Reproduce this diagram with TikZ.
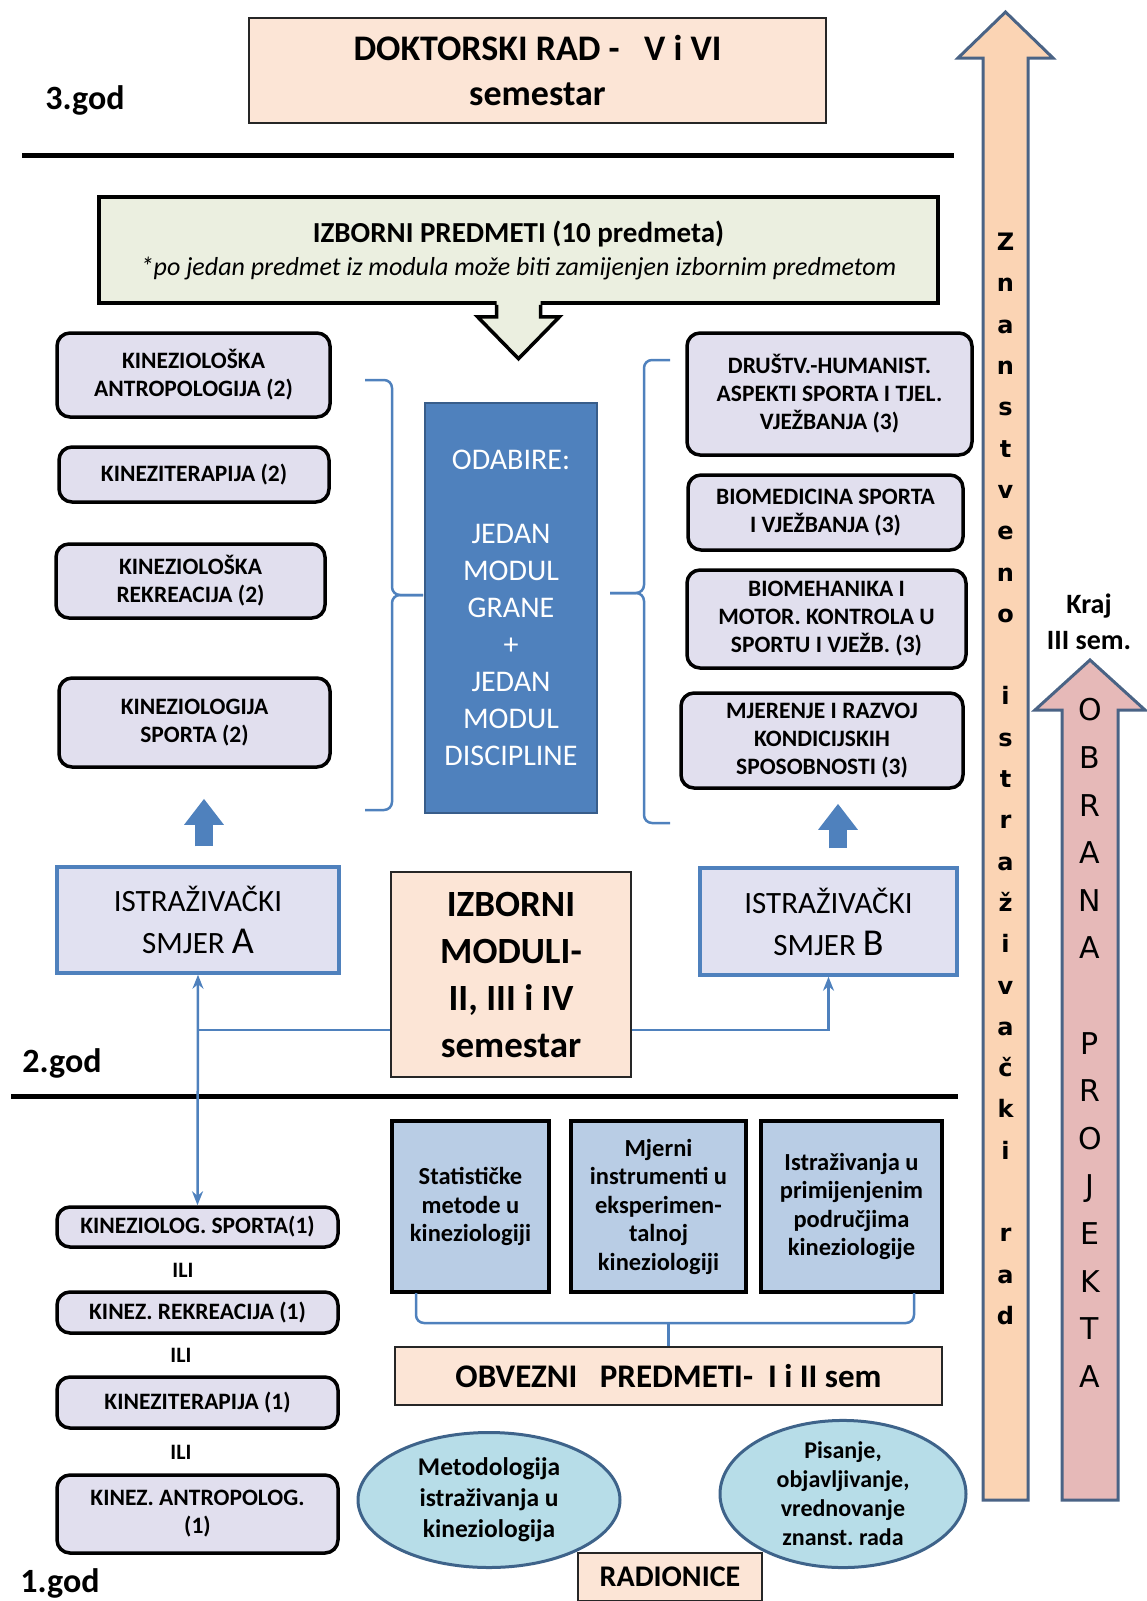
\documentclass[tikz,border=0pt]{standalone}
\usepackage{fontspec}
\setmainfont{Carlito}
\newfontfamily\vertfont{DejaVu Sans}
\usetikzlibrary{arrows.meta,calc,shapes.geometric}

\definecolor{peach}{RGB}{252,229,214}
\definecolor{lavend}{RGB}{225,223,238}
\definecolor{olivepale}{RGB}{235,239,224}
\definecolor{steel}{RGB}{79,129,189}
\definecolor{steeldark}{RGB}{56,93,138}
\definecolor{paleblue}{RGB}{185,205,229}
\definecolor{aqua}{RGB}{183,221,232}
\definecolor{aquaedge}{RGB}{62,99,138}
\definecolor{arroworange}{RGB}{251,212,180}
\definecolor{arrowpink}{RGB}{230,185,184}
\definecolor{arrowedge}{RGB}{74,99,133}
\definecolor{smjerfill}{RGB}{225,225,241}

\newcommand{\fsz}[2]{\fontsize{#1}{#2}\selectfont}

\tikzset{
  peachbox/.style={draw=black!85, line width=1.2pt, fill=peach, align=center, inner sep=0pt},
  modbox/.style={draw=black, line width=3.5pt, fill=lavend, rounded corners=13pt, align=center, inner sep=0pt, font=\bfseries\fsz{23.5}{28}},
  smjerbox/.style={draw=steel, line width=3.5pt, fill=smjerfill, align=center, inner sep=0pt, font=\fsz{31}{42}},
  sqbox/.style={draw=black, line width=4pt, fill=paleblue, align=center, inner sep=0pt, minimum height=171pt, font=\bfseries\fsz{24.5}{28.5}},
  workshop/.style={ellipse, draw=aquaedge, line width=3pt, fill=aqua, align=center, inner sep=0pt, font=\bfseries\fsz{25.5}{31}},
  yearlbl/.style={font=\bfseries\fsz{34}{40}},
  ililbl/.style={font=\bfseries\fsz{22}{26}},
  bracket/.style={draw=steel, line width=2.5pt, rounded corners=8pt},
  link/.style={draw=steel, line width=2.5pt},
  uparrow/.style={draw=steel, line width=18pt, -{Triangle[width=38pt,length=26pt]}},
  bigarrow/.style={draw=arrowedge, line width=3pt, line join=miter},
}

\begin{document}
\begin{tikzpicture}[x=1pt,y=-1pt]
\useasboundingbox (0,0) rectangle (1147,1601);

% Year separators
\draw[line width=5pt] (22,155) -- (954,155);
\draw[line width=5pt] (11,1096) -- (958,1096);
\node[yearlbl] (god3) at (85,100) {3.god};
\node[yearlbl] (god2) at (62,1063) {2.god};
\node[yearlbl] (god1) at (60,1583) {1.god};

% Third year
\node[peachbox, minimum width=577pt, minimum height=105pt, font=\bfseries\fsz{36}{46}] (doktor) at (537.5,70.5) {DOKTORSKI RAD -\ \ \ V i VI\\semestar};

% Elective subjects with block arrow
\node[draw=black, line width=3.5pt, fill=olivepale, minimum width=839pt, minimum height=106pt, align=center, inner sep=0pt, font=\fsz{26}{33}] (predmeti) at (518.5,250) {{\bfseries\fsz{29}{33}IZBORNI PREDMETI (10 predmeta)}\\\itshape *po jedan predmet iz modula može biti zamijenjen izbornim predmetom};
\begin{scope}[shift={(predmeti.south)}]
  \fill[olivepale] (-22,-4) -- (-22,12) -- (-41,12) -- (0,54) -- (41,12) -- (22,12) -- (22,-4) -- cycle;
  \draw[line width=3.5pt] (-22,0) -- (-22,12) -- (-41,12) -- (0,54) -- (41,12) -- (22,12) -- (22,0);
\end{scope}

% Modules of the branch
\node[modbox, minimum width=273pt, minimum height=84pt] (antrop) at (193.5,375) {KINEZIOLOŠKA\\ANTROPOLOGIJA (2)};
\node[modbox, minimum width=270pt, minimum height=55pt] (terap) at (194,474.5) {KINEZITERAPIJA (2)};
\node[modbox, minimum width=269pt, minimum height=74pt] (rekre) at (190.5,581) {KINEZIOLOŠKA\\REKREACIJA (2)};
\node[modbox, minimum width=271pt, minimum height=89pt] (sport) at (194.5,722.5) {KINEZIOLOGIJA\\SPORTA (2)};

% Choice in the middle
\node[draw=steeldark, line width=1.5pt, fill=steel, text=white, minimum width=172pt, minimum height=410pt, align=center, font=\fsz{30}{37}] (odabire) at (511,608) {ODABIRE:\\~\\JEDAN\\MODUL\\GRANE\\+\\JEDAN\\MODUL\\DISCIPLINE};
\draw[bracket] (365,380) -- (392,380) -- (392,595) -- (423,595);
\draw[bracket] (365,810) -- (392,810) -- (392,595) -- (423,595);
\draw[bracket] (670,360) -- (644,360) -- (644,593) -- (610,593);
\draw[bracket] (670,823) -- (644,823) -- (644,593) -- (610,593);

% Modules of the discipline
\node[modbox, minimum width=285pt, minimum height=122pt] (drustv) at (829.5,394) {DRUŠTV.-HUMANIST.\\ASPEKTI SPORTA I TJEL.\\VJEŽBANJA (3)};
\node[modbox, minimum width=275pt, minimum height=75pt] (biomed) at (825.5,512.5) {BIOMEDICINA SPORTA\\I VJEŽBANJA (3)};
\node[modbox, minimum width=279pt, minimum height=98pt] (biomeh) at (826.5,619) {BIOMEHANIKA I\\MOTOR. KONTROLA U\\SPORTU I VJEŽB.\ (3)};
\node[modbox, minimum width=282pt, minimum height=95pt] (kondic) at (822,740.5) {MJERENJE I RAZVOJ\\KONDICIJSKIH\\SPOSOBNOSTI (3)};

% Second year
\node[smjerbox, minimum width=282pt, minimum height=106pt] (smjerA) at (198,920) {ISTRAŽIVAČKI\\SMJER {\fsz{38}{42}A}};
\node[smjerbox, minimum width=257pt, minimum height=107pt] (smjerB) at (828.5,921.5) {ISTRAŽIVAČKI\\SMJER {\fsz{38}{42}B}};
\node[peachbox, minimum width=240pt, minimum height=205pt, font=\bfseries\fsz{37}{47}] (moduli) at (511,974.5) {IZBORNI\\MODULI-\\II, III i IV\\semestar};
\draw[uparrow, shorten <=19pt, shorten >=30pt] ([xshift=6pt]smjerA.north) -- ([xshift=6pt]smjerA.north |- sport.south);
\draw[uparrow, shorten <=18pt, shorten >=14pt] ([xshift=9.5pt]smjerB.north) -- ([xshift=9.5pt]smjerB.north |- kondic.south);

% First year
\node[modbox, minimum width=281pt, minimum height=40pt] (kspo1) at (197.5,1227) {KINEZIOLOG.\ SPORTA(1)};
\node[ililbl] (ili1) at (183,1270) {ILI};
\node[modbox, minimum width=281pt, minimum height=41pt] (krek1) at (197.5,1312.5) {KINEZ.\ REKREACIJA (1)};
\node[ililbl] (ili2) at (181,1355) {ILI};
\node[modbox, minimum width=281pt, minimum height=51pt] (kter1) at (197.5,1402.5) {KINEZITERAPIJA (1)};
\node[ililbl] (ili3) at (181,1452) {ILI};
\node[modbox, minimum width=281pt, minimum height=78pt] (kant1) at (197.5,1514) {KINEZ.\ ANTROPOLOG.\\(1)};

% Connections between the years
\coordinate (split) at (198,1030);
\draw[link, {Stealth[length=14pt,width=11pt]}-{Stealth[length=14pt,width=11pt]}] (smjerA.south) -- (kspo1.north);
\draw[link] (split) -- (split -| moduli.west);
\draw[link, -{Stealth[length=14pt,width=11pt]}] (split -| moduli.east) -| (smjerB.south);

% Compulsory subjects
\node[sqbox, minimum width=157pt] (statist) at (470.5,1206.5) {Statističke\\metode u\\kineziologiji};
\node[sqbox, minimum width=175pt] (mjerni) at (658.5,1206.5) {Mjerni\\instrumenti u\\eksperimen-\\talnoj\\kineziologiji};
\node[sqbox, minimum width=181pt] (istraz) at (851.5,1206.5) {Istraživanja u\\primijenjenim\\područjima\\kineziologije};
\node[peachbox, minimum width=547pt, minimum height=58pt, font=\bfseries\fsz{33}{40}] (obvez) at (668.5,1376) {OBVEZNI\ \ \ PREDMETI-\ \ I i II sem};
\draw[bracket] (416,1293) -- (416,1323) -- (914,1323) -- (914,1293);
\draw[bracket] (obvez.north) -- ++(0,-24);

% Workshops
\node[workshop, minimum width=262pt, minimum height=135pt] (metod) at (489,1500) {Metodologija\\istraživanja u\\kineziologija};
\node[workshop, minimum width=246pt, minimum height=142pt, font=\bfseries\fsz{24}{29}] (pisanje) at (843,1494) {Pisanje,\\objavljivanje,\\vrednovanje\\znanst.\ rada};
\node[peachbox, minimum width=184pt, minimum height=48pt, font=\bfseries\fsz{30}{36}] (radion) at (670,1577) {RADIONICE};

% Research work and project defence
\draw[bigarrow, fill=arroworange] (983,1500) -- (983,58) -- (958,58) -- (1005.5,12) -- (1053,58) -- (1028,58) -- (1028,1500) -- cycle;
\node[font=\vertfont\bfseries\fsz{24}{41.3}, align=center] (znanst) at (1005.5,779) {Z\\n\\a\\n\\s\\t\\v\\e\\n\\o\\~\\i\\s\\t\\r\\a\\ž\\i\\v\\a\\č\\k\\i\\~\\r\\a\\d};
\draw[bigarrow, fill=arrowpink] (1062,1500) -- (1062,710) -- (1035,710) -- (1090,660) -- (1145,710) -- (1118,710) -- (1118,1500) -- cycle;
\node[font=\vertfont\fsz{30}{47.6}, align=center] (obrana) at (1090,1043) {O\\B\\R\\A\\N\\A\\~\\P\\R\\O\\J\\E\\K\\T\\A};
\node[font=\bfseries\fsz{28}{36}, align=center] (kraj) at (1089,622) {Kraj\\III sem.};
\end{tikzpicture}
\end{document}
